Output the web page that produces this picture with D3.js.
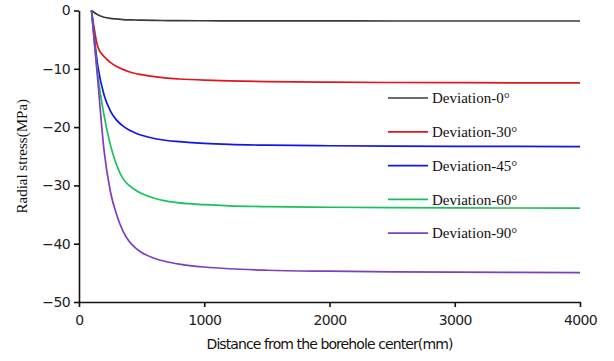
<!DOCTYPE html>
<html>
<head>
<meta charset="utf-8">
<script src="https://cdn.jsdelivr.net/npm/d3@7"></script>
<style>
  body { margin: 0; background: #fff; }
  .axis path, .axis line { stroke: #111; stroke-width: 1.6; }
  .axis text { font-family: "DejaVu Sans", sans-serif; font-size: 14px; fill: #222; letter-spacing: -0.6px; }
</style>
</head>
<body>
<div id="chart"></div>
<script>
(function(){
  'use strict';

  var distance = [100, 150, 200, 250, 300, 350, 400, 450, 500, 600, 700, 800, 1000, 1200, 1500, 2000, 2500, 3000, 3500, 4000];
  var dev0  = [0, -0.75, -1.15, -1.35, -1.45, -1.55, -1.6, -1.63, -1.66, -1.7, -1.72, -1.74, -1.76, -1.77, -1.78, -1.79, -1.8, -1.8, -1.8, -1.8];
  var dev30 = [0, -6.2, -7.9, -8.9, -9.6, -10.1, -10.5, -10.8, -11.0, -11.35, -11.6, -11.75, -11.95, -12.08, -12.2, -12.3, -12.35, -12.38, -12.4, -12.4];
  var dev45 = [0, -9.5, -14.5, -17.2, -18.8, -19.8, -20.5, -21.0, -21.4, -21.95, -22.3, -22.5, -22.8, -22.98, -23.1, -23.2, -23.26, -23.3, -23.32, -23.35];
  var dev60 = [0, -11, -18.0, -23.0, -26.5, -28.8, -30.0, -30.8, -31.4, -32.2, -32.7, -33.0, -33.3, -33.5, -33.65, -33.75, -33.82, -33.86, -33.88, -33.9];
  var dev90 = [0, -12, -24.0, -31.0, -35.0, -37.8, -39.6, -40.7, -41.5, -42.5, -43.1, -43.5, -44.0, -44.3, -44.55, -44.72, -44.82, -44.88, -44.92, -44.95];
  var seriesNames = ['Deviation-0°', 'Deviation-30°', 'Deviation-45°', 'Deviation-60°', 'Deviation-90°'];
  var seriesColors = ['#3a3a3a', '#e0161c', '#1414e6', '#17c25c', '#7d3fbf'];
  var xTicks = [0, 1000, 2000, 3000, 4000];
  var yTicks = [0, -10, -20, -30, -40, -50];

  var series = [dev0, dev30, dev45, dev60, dev90].map(function(vals, i) {
    return {name: seriesNames[i], c: seriesColors[i], pts: vals.map(function(v, j) { return {x: distance[j], y: v}; })};
  });

  var w = 614, h = 361;
  var svg = d3.select('#chart').append('svg')
    .attr('width', w)
    .attr('height', h);

  var x = d3.scaleLinear().domain([0, 4000]).range([79, 580]);
  var y = d3.scaleLinear().domain([-50, 0]).range([302, 10.5]);

  var xAxis = d3.axisBottom(x).tickValues(xTicks).tickSize(5).tickSizeOuter(0).tickFormat(d3.format('d'));
  var yAxis = d3.axisLeft(y).tickValues(yTicks).tickSize(5).tickSizeOuter(0).tickFormat(d3.format('d'));

  var gx = svg.append('g')
    .attr('class', 'x axis')
    .attr('transform', 'translate(0,' + y(-50) + ')')
    .call(xAxis);
  gx.selectAll('text').attr('dy', '1.05em');

  var gy = svg.append('g')
    .attr('class', 'y axis')
    .attr('transform', 'translate(' + x(0) + ',0)')
    .call(yAxis);
  gy.selectAll('text').attr('x', -9);

  var line = d3.line()
    .x(function(d) { return x(d.x); })
    .y(function(d) { return y(d.y); })
    .curve(d3.curveMonotoneX);

  svg.selectAll('.series')
    .data(series)
    .enter()
    .append('path')
    .attr('class', 'series')
    .attr('d', function(d) { return line(d.pts); })
    .style('fill', 'none')
    .style('stroke', function(d) { return d.c; })
    .style('stroke-width', 1.7);

  // legend
  var lg = svg.selectAll('.lg')
    .data(series)
    .enter()
    .append('g')
    .attr('class', 'lg')
    .attr('transform', function(d, i) { return 'translate(388,' + (98 + i * 33.8) + ')'; });

  lg.append('line')
    .attr('x1', 0).attr('x2', 40)
    .style('stroke', function(d) { return d.c; })
    .style('stroke-width', 1.7);

  lg.append('text')
    .attr('x', 44)
    .attr('dy', '0.35em')
    .style('font-family', '"Liberation Serif", serif')
    .style('font-size', '15px')
    .style('fill', '#111')
    .text(function(d) { return d.name; });

  svg.append('text')
    .attr('x', x(2000))
    .attr('y', 349)
    .attr('text-anchor', 'middle')
    .style('font-family', '"DejaVu Sans", sans-serif')
    .style('font-size', '14px')
    .style('letter-spacing', '-0.9px')
    .style('fill', '#111')
    .text('Distance from the borehole center(mm)');

  svg.append('text')
    .attr('transform', 'translate(27,' + y(-25) + ') rotate(-90)')
    .attr('text-anchor', 'middle')
    .style('font-family', '"Liberation Serif", serif')
    .style('font-size', '15px')
    .style('fill', '#111')
    .text('Radial stress(MPa)');

}());
</script>
</body>
</html>
